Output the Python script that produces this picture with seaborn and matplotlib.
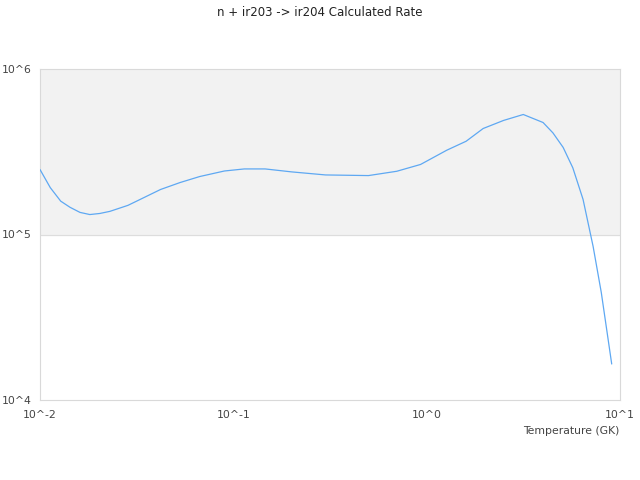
import numpy as np
import pandas as pd
import matplotlib
matplotlib.use('Agg')
import matplotlib.pyplot as plt
import seaborn as sns

# Temperature (GK) and calculated rate
temperature = [0.01, 0.0113, 0.0128, 0.0143, 0.0161, 0.0181, 0.0204, 0.023, 0.0285,
               0.033, 0.042, 0.053, 0.067, 0.09, 0.114, 0.146, 0.2, 0.3, 0.5, 0.7,
               0.93, 1.27, 1.6, 1.96, 2.5, 3.16, 4.0, 4.5, 5.08, 5.7, 6.44, 7.26,
               8.0, 9.06]
rate = [2.47e5, 1.92e5, 1.59e5, 1.46e5, 1.36e5, 1.32e5, 1.34e5, 1.38e5, 1.50e5,
        1.63e5, 1.87e5, 2.06e5, 2.24e5, 2.42e5, 2.49e5, 2.49e5, 2.39e5, 2.29e5,
        2.27e5, 2.41e5, 2.65e5, 3.23e5, 3.66e5, 4.37e5, 4.89e5, 5.31e5, 4.75e5,
        4.11e5, 3.36e5, 2.53e5, 1.63e5, 8.47e4, 4.47e4, 1.65e4]

x_ticks = [0.01, 0.1, 1, 10]
x_labels = ['10^-2', '10^-1', '10^0', '10^1']
y_ticks = [1e4, 1e5, 1e6]
y_labels = ['10^4', '10^5', '10^6']

df = pd.DataFrame({'Temperature': temperature, 'Rate': rate})

sns.set_style('white')
plt.rcParams['font.family'] = ['DejaVu Sans']

fig = plt.figure(figsize=(6.4, 4.8), dpi=100)
ax = fig.add_axes([40 / 640, 1 - 400 / 480, 580 / 640, 331 / 480])

# alternating band like the original chart
ax.axhspan(1e5, 1e6, color='#f2f2f2', zorder=0)
ax.axhline(1e5, color='#dddddd', lw=0.8, zorder=1)

sns.lineplot(data=df, x='Temperature', y='Rate', ax=ax, color='#5ea8f2', lw=0.9, zorder=3)

ax.set_xscale('log')
ax.set_yscale('log')
ax.set_xlim(0.01, 10)
ax.set_ylim(1e4, 1e6)
ax.set_xticks(x_ticks)
ax.set_xticklabels(x_labels)
ax.set_yticks(y_ticks)
ax.set_yticklabels(y_labels)
ax.minorticks_off()
ax.tick_params(axis='both', length=0, labelsize=7.8, colors='#444444')
ax.tick_params(axis='x', pad=7)
ax.tick_params(axis='y', pad=6)

for s in ax.spines.values():
    s.set_color('#d9d9d9')
    s.set_linewidth(0.8)

ax.set_xlabel('')
ax.set_ylabel('')
fig.text(619 / 640, 1 - 431 / 480, 'Temperature (GK)', ha='right', va='center',
         fontsize=7.8, color='#444444')
fig.text(0.5, 1 - 12 / 480, 'n + ir203 -> ir204 Calculated Rate', ha='center',
         va='center', fontsize=8.5, color='#222222')

fig.savefig('out.png', dpi=100)
